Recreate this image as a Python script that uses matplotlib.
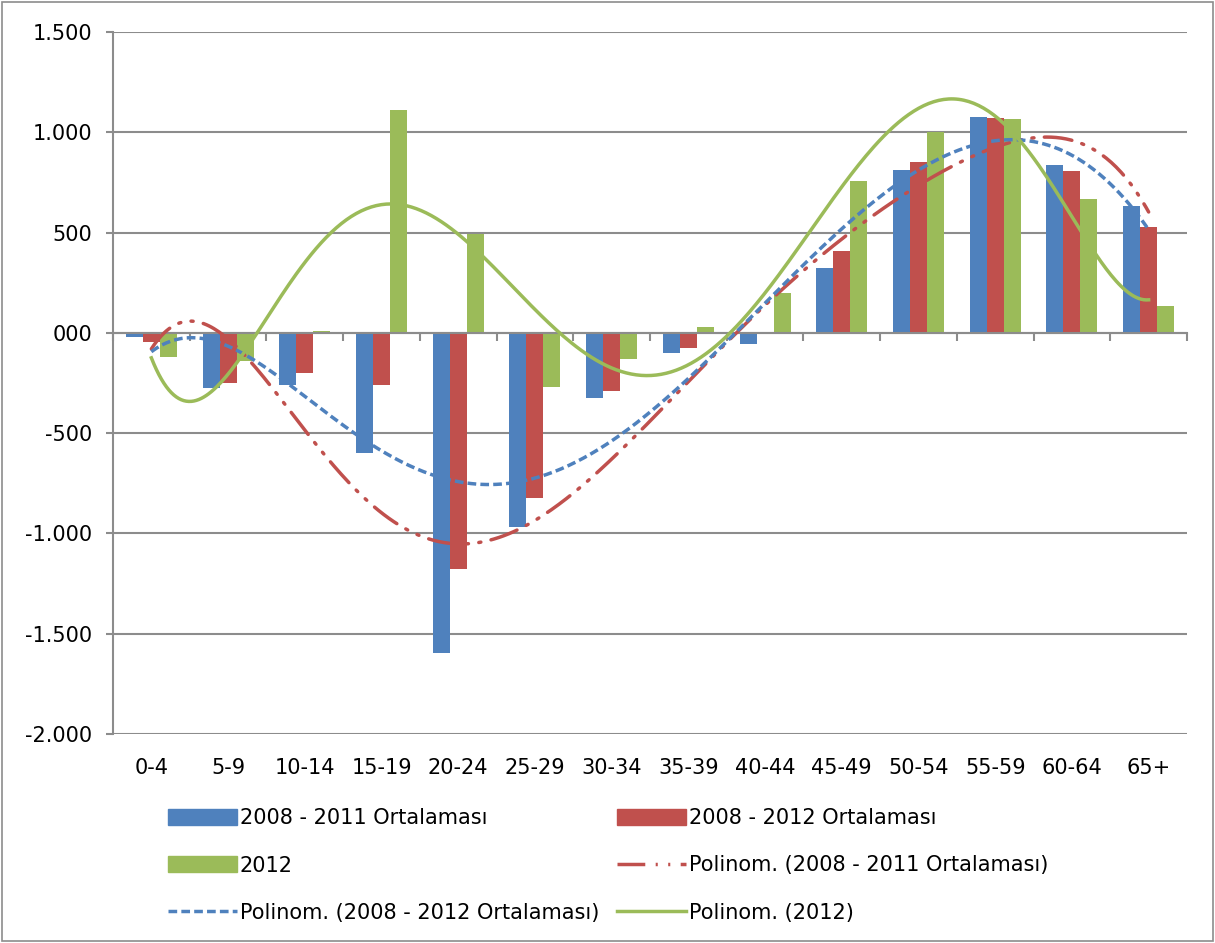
import numpy as np
import matplotlib
import matplotlib.pyplot as plt
from matplotlib.patches import Patch, Rectangle
from matplotlib.lines import Line2D
import matplotlib.transforms as mtransforms

matplotlib.rcParams["font.family"] = "DejaVu Sans"
matplotlib.rcParams["font.size"] = 15

categories = ["0-4", "5-9", "10-14", "15-19", "20-24", "25-29", "30-34",
              "35-39", "40-44", "45-49", "50-54", "55-59", "60-64", "65+"]

avg_2008_2011 = [-20, -275, -258, -600, -1595, -970, -325, -100, -55, 325, 810, 1075, 835, 630]
avg_2008_2012 = [-45, -250, -200, -260, -1175, -825, -290, -75, -5, 410, 850, 1070, 805, 530]
val_2012 = [-120, -140, 10, 1110, 495, -270, -130, 30, 200, 755, 1000, 1065, 665, 135]

ytick_values = [-2000, -1500, -1000, -500, 0, 500, 1000, 1500]
ytick_labels = ["-2.000", "-1.500", "-1.000", "-500", "000", "500", "1.000", "1.500"]

blue = "#4F81BD"
red = "#C0504D"
green = "#9BBB59"
grid_gray = "#8C8C8C"

# Excel-style polynomial trendlines
poly_order = 6

fig = plt.figure(figsize=(12.15, 9.43), dpi=100)
ax = fig.add_axes([113 / 1215, 1 - 734 / 943, (1187 - 113) / 1215, (734 - 32) / 943])

x = np.arange(len(categories))
w = 0.222

ax.bar(x - w, avg_2008_2011, w, color=blue, zorder=2)
ax.bar(x, avg_2008_2012, w, color=red, zorder=2)
ax.bar(x + w, val_2012, w, color=green, zorder=2)

xs = np.linspace(x[0], x[-1], 400)
fit_11 = np.polyval(np.polyfit(x, avg_2008_2011, poly_order), xs)
fit_12 = np.polyval(np.polyfit(x, avg_2008_2012, poly_order), xs)
fit_2012 = np.polyval(np.polyfit(x, val_2012, poly_order), xs)

red_style = (0, (8, 3, 0.6, 3, 0.6, 3))
blue_style = (0, (2.5, 1.2))

ax.plot(xs, fit_11, color=red, lw=2.5, linestyle=red_style, dash_capstyle="round", zorder=3)
ax.plot(xs, fit_12, color=blue, lw=2.5, linestyle=blue_style, zorder=3)
ax.plot(xs, fit_2012, color=green, lw=2.5, zorder=3)

ax.set_xlim(-0.5, len(categories) - 0.5)
ax.set_ylim(-2000, 1500)
ax.set_yticks(ytick_values)
ax.set_yticklabels(ytick_labels)
ax.yaxis.grid(True, color=grid_gray, lw=1.5, zorder=0)
ax.set_axisbelow(True)

for side in ["top", "right"]:
    ax.spines[side].set_visible(False)
ax.spines["left"].set_color(grid_gray)
ax.spines["left"].set_linewidth(1.5)
ax.spines["bottom"].set_position(("data", 0))
ax.spines["bottom"].set_color(grid_gray)
ax.spines["bottom"].set_linewidth(1.5)

ax.set_xticks(np.arange(len(categories) + 1) - 0.5)
ax.set_xticklabels([])
ax.tick_params(axis="x", direction="out", length=6, color=grid_gray, width=1.5)
ax.tick_params(axis="y", direction="out", length=5, color=grid_gray, width=1.5, pad=10)

trans = mtransforms.blended_transform_factory(ax.transData, ax.transAxes)
for i, cat in enumerate(categories):
    ax.text(x[i], -0.048, cat, transform=trans, ha="center", va="center")

col1 = [Patch(color=blue), Patch(color=green), Line2D([], [], color=blue, lw=2.5, linestyle=blue_style)]
col2 = [Patch(color=red), Line2D([], [], color=red, lw=2.5, linestyle=red_style),
        Line2D([], [], color=green, lw=2.5)]
labels1 = ["2008 - 2011 Ortalaması", "2012", "Polinom. (2008 - 2012 Ortalaması)"]
labels2 = ["2008 - 2012 Ortalaması", "Polinom. (2008 - 2011 Ortalaması)", "Polinom. (2012)"]

fig.legend(col1 + col2, labels1 + labels2, ncol=2, loc="upper left",
           bbox_to_anchor=(168 / 1215, 1 - 808 / 943), frameon=False,
           fontsize=15, handlelength=3.3, handleheight=0.8, handletextpad=0.15,
           labelspacing=1.32, columnspacing=0.85, borderpad=0, borderaxespad=0)

fig.patches.append(Rectangle((2 / 1215, 2 / 943), 1 - 4 / 1215, 1 - 4 / 943,
                             transform=fig.transFigure, fill=False,
                             edgecolor=grid_gray, lw=1.2))

plt.savefig("out.png", dpi=100)
